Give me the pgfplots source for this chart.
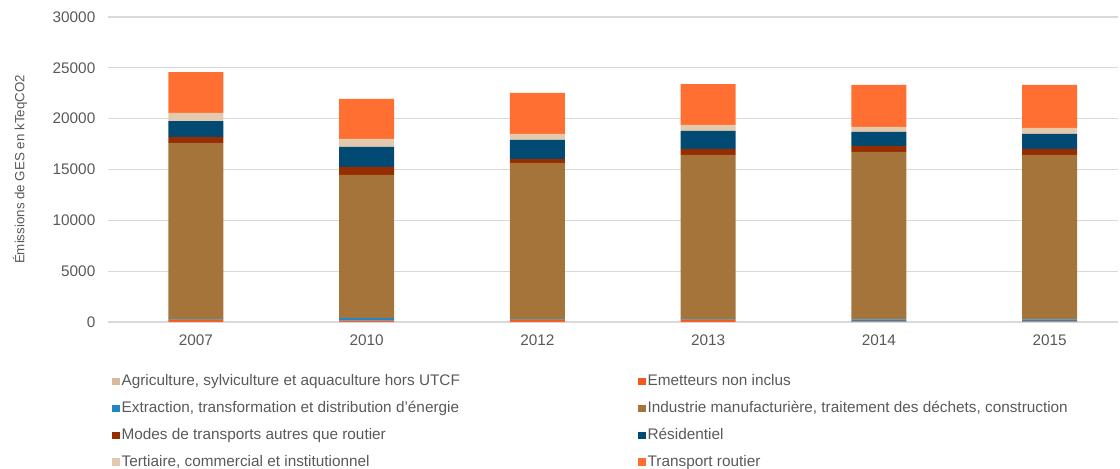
\documentclass[border=0pt]{standalone}
\usepackage{fontspec}
\setmainfont{Liberation Sans}
\usepackage{pgfplots}
\pgfplotsset{compat=1.18}
\definecolor{txt}{HTML}{595959}
\definecolor{gridc}{HTML}{D9D9D9}
\definecolor{cAgri}{HTML}{D9B99B}
\definecolor{cEmet}{HTML}{F05A1E}
\definecolor{cExtr}{HTML}{1F86C8}
\definecolor{cIndu}{HTML}{A5743A}
\definecolor{cMode}{HTML}{962D00}
\definecolor{cResi}{HTML}{014A74}
\definecolor{cTert}{HTML}{E3CAAE}
\definecolor{cTran}{HTML}{FF6F31}
\begin{document}
\begin{tikzpicture}
\begin{axis}[
  name=ax,
  scale only axis,
  width=757.5pt, height=228.75pt,
  ybar stacked, bar width=41.25pt,
  xmin=-0.515, xmax=5.40,
  ymin=0, ymax=30000,
  ytick={0,5000,...,30000},
  scaled y ticks=false,
  xtick=data,
  xticklabels={2007,2010,2012,2013,2014,2015},
  major tick length=0pt,
  axis y line*=left, y axis line style={draw=none},
  axis x line*=bottom, x axis line style={draw=gridc, line width=0.8pt},
  ymajorgrids, xmajorgrids=false, grid style={draw=gridc, line width=0.8pt},
  /pgf/number format/assume math mode=true,
  /pgf/number format/1000 sep={},
  tick label style={font=\fontsize{11.5}{13}\selectfont, text=txt},
  yticklabel style={xshift=-6pt},
  xticklabel style={yshift=-6pt},
  ylabel={Émissions de GES en kTeqCO2},
  every axis y label/.style={at={(axis description cs:-0.0871,0.5)}, rotate=90, anchor=center, font=\fontsize{10}{12}\selectfont, text=txt},
  legend columns=2,
  legend cell align=left,
  legend style={at={(axis description cs:0.004,-0.165)}, anchor=north west, draw=none, fill=none, inner sep=0pt,
    font=\fontsize{11.5}{13}\selectfont, text=txt, row sep=7.2pt,
    nodes={inner sep=1.5pt}},
  legend image code/.code={\fill[#1] (0pt,-3pt) rectangle (5.5pt,2.5pt);},
  every axis plot/.append style={draw=none},
]
\addplot[fill=cAgri] coordinates {(0,20) (1,20) (2,20) (3,20) (4,20) (5,20)};
\addlegendentry{\makebox[386pt][l]{Agriculture, sylviculture et aquaculture hors UTCF}}
\addplot[fill=cEmet] coordinates {(0,200) (1,120) (2,200) (3,200) (4,30) (5,30)};
\addlegendentry{Emetteurs non inclus}
\addplot[fill=cExtr] coordinates {(0,30) (1,250) (2,30) (3,30) (4,220) (5,220)};
\addlegendentry{\makebox[386pt][l]{Extraction, transformation et distribution d'énergie}}
\addplot[fill=cIndu] coordinates {(0,17360) (1,14070) (2,15400) (3,16180) (4,16460) (5,16160)};
\addlegendentry{Industrie manufacturière, traitement des déchets, construction}
\addplot[fill=cMode] coordinates {(0,590) (1,790) (2,390) (3,590) (4,590) (5,590)};
\addlegendentry{\makebox[386pt][l]{Modes de transports autres que routier}}
\addplot[fill=cResi] coordinates {(0,1570) (1,1970) (2,1870) (3,1770) (4,1380) (5,1480)};
\addlegendentry{Résidentiel}
\addplot[fill=cTert] coordinates {(0,790) (1,790) (2,590) (3,590) (4,490) (5,590)};
\addlegendentry{\makebox[386pt][l]{Tertiaire, commercial et institutionnel}}
\addplot[fill=cTran] coordinates {(0,4030) (1,3940) (2,4030) (3,4030) (4,4130) (5,4230)};
\addlegendentry{Transport routier}
\end{axis}
\pgfresetboundingbox
\path[use as bounding box] (ax.south west) ++(-81pt,-109.5pt) rectangle ([shift={(759pt,241.5pt)}]ax.south west);
\end{tikzpicture}
\end{document}
